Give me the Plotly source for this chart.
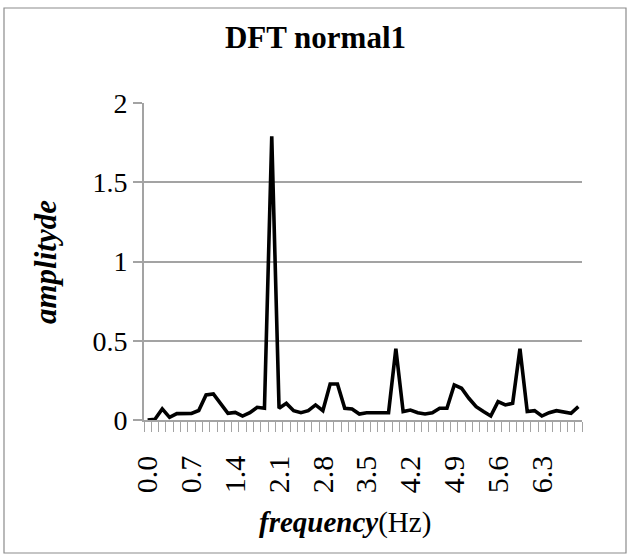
import plotly.graph_objects as go

# ---- data ----
step_hz = 7.0 / 60.0
freq_hz = [round(k * step_hz, 4) for k in range(60)]
amplitude = [
    0.000, 0.005, 0.070, 0.017, 0.040, 0.042, 0.042, 0.060, 0.158, 0.164,
    0.105, 0.042, 0.048, 0.025, 0.046, 0.080, 0.074, 1.790, 0.074, 0.105,
    0.059, 0.046, 0.059, 0.095, 0.059, 0.227, 0.227, 0.074, 0.070, 0.038,
    0.046, 0.046, 0.046, 0.046, 0.450, 0.053, 0.063, 0.046, 0.038, 0.046,
    0.074, 0.074, 0.221, 0.200, 0.137, 0.084, 0.053, 0.025, 0.116, 0.095,
    0.105, 0.450, 0.053, 0.059, 0.025, 0.046, 0.059, 0.053, 0.042, 0.084,
]
x_tick_labels = ["0.0", "0.7", "1.4", "2.1", "2.8", "3.5", "4.2", "4.9", "5.6", "6.3"]
x_tick_vals = [freq_hz[i * 6] for i in range(len(x_tick_labels))]

W, H = 631, 559
L, R, T, B = 144, 582, 103, 420  # plot area in px
pw, ph = R - L, B - T

def px(x):
    return (x - L) / pw

def py(y):
    return (B - y) / ph

GRAY = "#a3a3a3"
SERIF = "Liberation Serif, Times New Roman, serif"

fig = go.Figure()
fig.add_trace(go.Scatter(
    x=freq_hz, y=amplitude, mode="lines",
    line=dict(color="black", width=3.6),
    showlegend=False,
))

fig.update_layout(
    width=W, height=H,
    margin=dict(l=L, r=W - R, t=T, b=H - B),
    paper_bgcolor="white", plot_bgcolor="white",
    font=dict(family=SERIF, color="black"),
    title=dict(text="<b>DFT normal1</b>", font=dict(family=SERIF, size=31, color="black"),
               xref="container", x=0.5, xanchor="center",
               yref="container", y=1 - 37 / H, yanchor="middle"),
    xaxis=dict(
        range=[-step_hz / 2, freq_hz[-1] + step_hz / 2],
        tickmode="array", tickvals=x_tick_vals, ticktext=x_tick_labels,
        tickangle=-90, ticks="", ticklabelstandoff=22,
        tickfont=dict(family=SERIF, size=30, color="black"),
        showgrid=False, zeroline=False,
        showline=True, linecolor=GRAY, linewidth=1.6,
        minor=dict(tick0=-step_hz / 2, dtick=step_hz, ticks="outside",
                   ticklen=10, tickcolor=GRAY, tickwidth=1.3, showgrid=False),
    ),
    yaxis=dict(
        range=[0, 2], dtick=0.5, tick0=0,
        showgrid=True, gridcolor=GRAY, gridwidth=1.6,
        zeroline=False, showline=True, linecolor=GRAY, linewidth=1.6,
        ticks="outside", ticklen=9, tickcolor=GRAY, tickwidth=1.6,
        tickfont=dict(family=SERIF, size=28, color="black"),
    ),
    shapes=[dict(type="rect", xref="paper", yref="paper",
                 x0=px(4), x1=px(626), y0=py(553), y1=py(8),
                 line=dict(color="#8c8c8c", width=1.2), fillcolor="rgba(0,0,0,0)",
                 layer="below")],
    annotations=[
        dict(text="<b><i>amplityde</i></b>", xref="paper", yref="paper",
             x=px(45), y=py(262), xanchor="center", yanchor="middle",
             textangle=-90, showarrow=False,
             font=dict(family=SERIF, size=31, color="black")),
        dict(text="<b><i>frequency</i></b>(Hz)", xref="paper", yref="paper",
             x=px(345), y=py(522), xanchor="center", yanchor="middle",
             showarrow=False,
             font=dict(family=SERIF, size=29, color="black")),
    ],
)

fig.write_html("out.html")
